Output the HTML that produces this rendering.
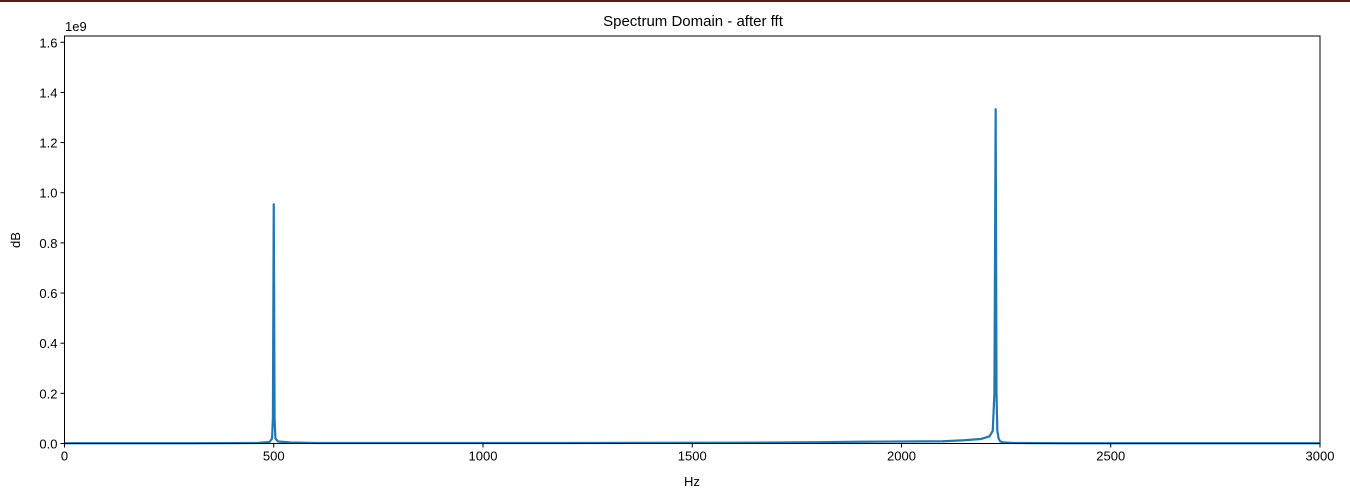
<!DOCTYPE html>
<html><head><meta charset="utf-8"><style>
html,body{margin:0;padding:0;background:#fff;}
body{width:1350px;height:499px;overflow:hidden;position:relative;font-family:"Liberation Sans","DejaVu Sans",sans-serif;}
</style></head><body>
<div style="position:absolute;left:0;top:0;width:1350px;height:2px;background:#5a1a14"></div>
<svg id="chart" width="1350" height="499" style="position:absolute;left:0;top:0" font-family="Liberation Sans, DejaVu Sans, sans-serif"></svg>
<script>
const xTicks=[0,500,1000,1500,2000,2500,3000];
const yTicks=[0,0.2,0.4,0.6,0.8,1.0,1.2,1.4,1.6];
const freqs=[0,100,300,460,490,496,498,500,502,504,510,540,600,800,1200,1600,1800,1900,2000,2100,2150,2190,2210,2218,2222,2225,2227,2229,2232,2236,2245,2270,2400,2700,3000];
const mags=[0.001,0.001,0.001,0.002,0.006,0.02,0.1,0.954,0.1,0.02,0.008,0.004,0.002,0.002,0.002,0.003,0.005,0.007,0.008,0.009,0.013,0.018,0.028,0.05,0.2,1.333,0.2,0.05,0.02,0.008,0.004,0.002,0.001,0.001,0.001];
const L=64.5,R=1320,T=36,B=443.5,xMax=3000,yMax=1.625;
const X=v=>L+(v/xMax)*(R-L), Y=v=>B-(v/yMax)*(B-T);
const svg=document.getElementById('chart');const NS='http://www.w3.org/2000/svg';
function mk(t,a,p){const e=document.createElementNS(NS,t);for(const k in a)e.setAttribute(k,a[k]);(p||svg).appendChild(e);return e;}
let t=mk('text',{x:693,y:26,'text-anchor':'middle','font-size':'15',fill:'#000'});t.textContent='Spectrum Domain - after fft';


let d='';freqs.forEach((f,i)=>{d+=(i?'L':'M')+X(f).toFixed(2)+','+Y(mags[i]*1).toFixed(2);});
let ln=mk('path',{d:d,fill:'none',stroke:'#1f77b4','stroke-width':'2.2','stroke-linejoin':'round'});


let fr=mk('rect',{x:L,y:T,width:R-L,height:B-T,fill:'none',stroke:'#000','stroke-width':'1'});


xTicks.forEach(v=>{const x=X(v);mk('line',{x1:x,x2:x,y1:B,y2:B+4,stroke:'#000'});
 const tx=mk('text',{x:x,y:B+17,'text-anchor':'middle','font-size':'13',fill:'#000'});tx.textContent=v;
 
 });
yTicks.forEach(v=>{const y=Y(v);mk('line',{x1:L-4,x2:L,y1:y,y2:y,stroke:'#000'});
 const tx=mk('text',{x:L-7,y:y+5,'text-anchor':'end','font-size':'13',fill:'#000'});tx.textContent=v.toFixed(1);
 
 });
let e9=mk('text',{x:65,y:31,'font-size':'13',fill:'#000'});e9.textContent='1e9';


let xl=mk('text',{x:692,y:486,'text-anchor':'middle','font-size':'13',fill:'#000'});xl.textContent='Hz';


let yl=mk('text',{x:0,y:0,'text-anchor':'middle','font-size':'13',fill:'#000',transform:'translate(20,240) rotate(-90)'});yl.textContent='dB';


</script>
</body></html>
